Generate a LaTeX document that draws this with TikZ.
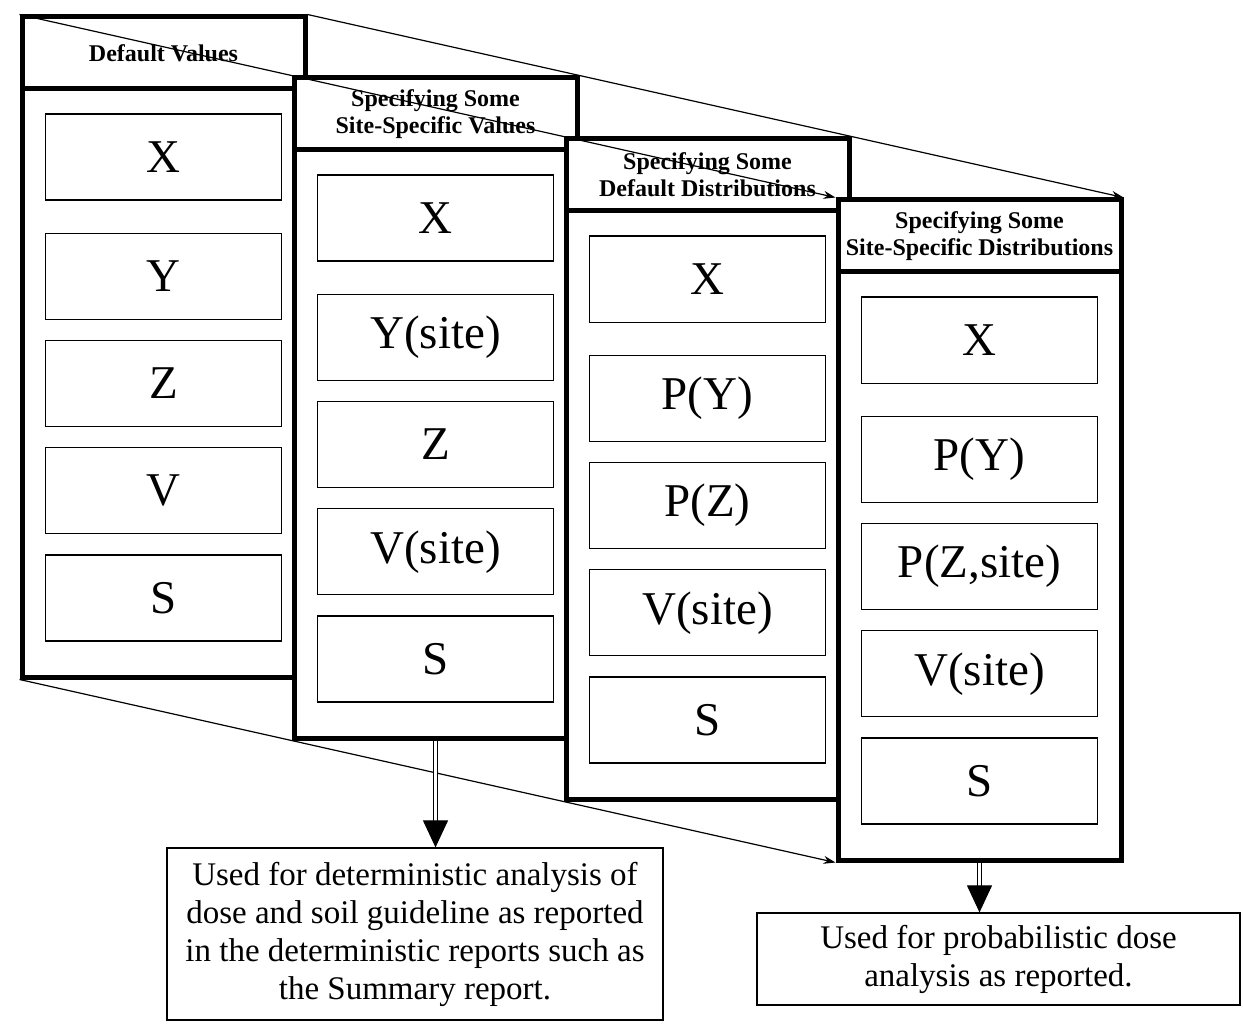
\documentclass[tikz,border=0pt]{standalone}
\usepackage{fontspec}
\setmainfont{Liberation Serif}
\usetikzlibrary{arrows.meta,positioning}

\tikzset{
  panel/.style={draw, line width=5pt, fill=white, minimum width=283pt,
    minimum height=660pt, inner sep=0pt},
  header/.style={draw, line width=5pt, fill=white, minimum width=283pt,
    minimum height=72pt, inner sep=0pt, align=center, anchor=north,
    font=\bfseries\fontsize{24}{27}\selectfont},
  item/.style={draw, line width=1.2pt, fill=white, minimum width=236pt,
    minimum height=86pt, inner sep=0pt, font=\fontsize{47}{50}\selectfont},
  note/.style={draw, line width=1.2pt, fill=white, align=center,
    inner sep=0pt, font=\fontsize{33}{38}\selectfont},
  persp/.style={line width=1.2pt, -{Stealth[length=12pt, width=8pt]}},
  result/.style={double, double distance=2.2pt, line width=1pt,
    -{Triangle[length=27pt, width=25pt]}}
}

\begin{document}
\begin{tikzpicture}[x=1pt, y=-1pt]
  \useasboundingbox (0,0) rectangle (1243,1027);

  % default values
  \node[panel] (p1) at (163.5,347) {};
  \node[header] (h1) at (p1.north) {Default Values};
  \node[item, below=22pt of h1] (x1) {X};
  \node[item, below=32pt of x1] (y1) {Y};
  \node[item, below=20pt of y1] (z1) {Z};
  \node[item, below=20pt of z1] (v1) {V};
  \node[item, below=20pt of v1] (s1) {S};

  % site-specific values
  \node[panel] (p2) at (435.5,408) {};
  \node[header] (h2) at (p2.north) {Specifying Some\\Site-Specific Values};
  \node[item, below=22pt of h2] (x2) {X};
  \node[item, below=32pt of x2] (y2) {Y(site)};
  \node[item, below=20pt of y2] (z2) {Z};
  \node[item, below=20pt of z2] (v2) {V(site)};
  \node[item, below=20pt of v2] (s2) {S};

  % default distributions
  \node[panel] (p3) at (707.5,469) {};
  \node[header] (h3) at (p3.north) {Specifying Some\\Default Distributions};
  \node[item, below=22pt of h3] (x3) {X};
  \node[item, below=32pt of x3] (y3) {P(Y)};
  \node[item, below=20pt of y3] (z3) {P(Z)};
  \node[item, below=20pt of z3] (v3) {V(site)};
  \node[item, below=20pt of v3] (s3) {S};

  % site-specific distributions
  \node[panel] (p4) at (979.5,530) {};
  \node[header] (h4) at (p4.north) {Specifying Some\\Site-Specific Distributions};
  \node[item, below=22pt of h4] (x4) {X};
  \node[item, below=32pt of x4] (y4) {P(Y)};
  \node[item, below=20pt of y4] (z4) {P(Z,site)};
  \node[item, below=20pt of z4] (v4) {V(site)};
  \node[item, below=20pt of v4] (s4) {S};

  \draw[persp] (p1.north west) -- (p4.north west);
  \draw[persp] (p1.north east) -- (p4.north east);
  \draw[persp] (p1.south west) -- (p4.south west);

  \node[note, minimum width=496pt, minimum height=172pt] (used1) at (415,934)
    {Used for deterministic analysis of\\dose and soil guideline as reported\\
     in the deterministic reports such as\\the Summary report.};
  \node[note, minimum width=483pt, minimum height=92pt] (used2) at (998.5,959)
    {Used for probabilistic dose\\analysis as reported.};

  \draw[result] (p2.south) -- (p2.south |- used1.north);
  \draw[result] (p4.south) -- (p4.south |- used2.north);
\end{tikzpicture}
\end{document}
